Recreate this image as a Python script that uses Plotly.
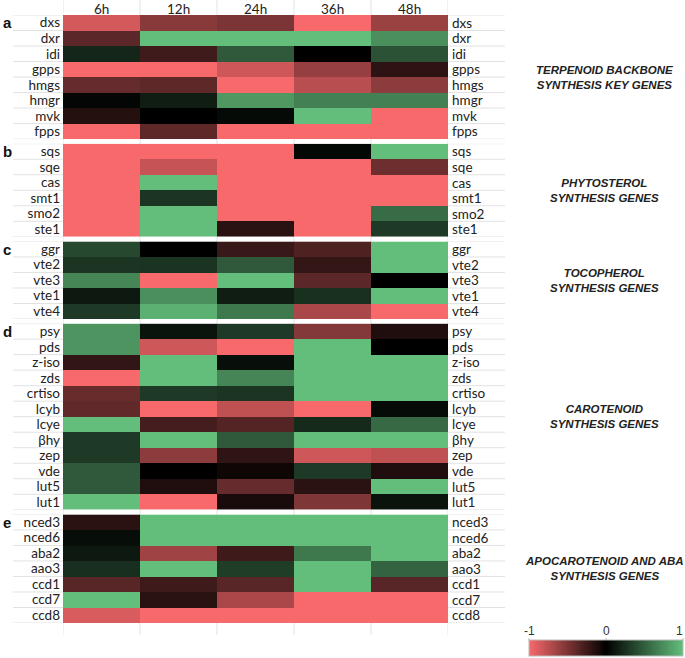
import plotly.graph_objects as go

cols = ["6h", "12h", "24h", "36h", "48h"]

genes_a = ["dxs", "dxr", "idi", "gpps", "hmgs", "hmgr", "mvk", "fpps"]
vals_a = [
    [-0.85, -0.55, -0.50, -1.00, -0.62],
    [-0.37, 1.00, 1.00, 1.00, 0.75],
    [0.20, -0.26, 0.47, 0.00, 0.43],
    [-1.00, -1.00, -0.83, -0.60, -0.18],
    [-0.41, -0.38, -1.00, -0.74, -0.57],
    [0.03, 0.15, 0.80, 0.68, 0.68],
    [-0.15, 0.00, 0.05, 1.00, -1.00],
    [-1.00, -0.38, -1.00, -1.00, -1.00],
]

genes_b = ["sqs", "sqe", "cas", "smt1", "smo2", "ste1"]
vals_b = [
    [-1.00, -1.00, -1.00, 0.04, 1.00],
    [-1.00, -0.80, -1.00, -1.00, -0.44],
    [-1.00, 1.00, -1.00, -1.00, -1.00],
    [-1.00, 0.28, -1.00, -1.00, -1.00],
    [-1.00, 1.00, -1.00, -1.00, 0.57],
    [-1.00, 1.00, -0.17, -1.00, 0.30],
]

genes_c = ["ggr", "vte2", "vte3", "vte1", "vte4"]
vals_c = [
    [0.38, 0.00, -0.23, -0.32, 1.00],
    [0.28, 0.27, 0.47, -0.21, 1.00],
    [0.70, -1.00, 1.00, -0.37, 0.00],
    [0.13, 0.75, 0.15, 0.25, 1.00],
    [0.30, 0.93, 0.63, -0.68, -1.00],
]

genes_d = ["psy", "pds", "z-iso", "zds", "crtiso", "lcyb", "lcye", "βhy",
           "zep", "vde", "lut5", "lut1"]
vals_d = [
    [0.78, 0.10, 0.30, -0.53, -0.13],
    [0.78, -0.83, -1.00, 1.00, 0.00],
    [-0.20, 1.00, 0.08, 1.00, 1.00],
    [-1.00, 1.00, 0.70, 1.00, 1.00],
    [-0.42, 0.30, 0.28, 1.00, 1.00],
    [-0.39, -1.00, -0.77, -1.00, 0.06],
    [1.00, -0.28, -0.34, 0.22, 0.55],
    [0.30, 1.00, 0.47, 1.00, 1.00],
    [0.30, -0.57, -0.19, -0.83, -0.77],
    [0.47, 0.00, -0.06, 0.30, -0.13],
    [0.47, -0.13, -0.41, -0.17, 1.00],
    [1.00, -1.00, -0.10, -0.51, 0.10],
]

genes_e = ["nced3", "nced6", "aba2", "aao3", "ccd1", "ccd7", "ccd8"]
vals_e = [
    [-0.17, 1.00, 1.00, 1.00, 1.00],
    [0.07, 1.00, 1.00, 1.00, 1.00],
    [0.13, -0.64, -0.25, 0.63, 1.00],
    [0.24, 1.00, 0.32, 1.00, 0.52],
    [-0.36, -0.25, -0.36, 1.00, -0.36],
    [1.00, -0.17, -0.68, -1.00, -1.00],
    [-0.87, -1.00, -1.00, -1.00, -1.00],
]

panel_letters = ["a", "b", "c", "d", "e"]
panel_titles = [
    "TERPENOID BACKBONE<br>SYNTHESIS KEY GENES",
    "PHYTOSTEROL<br>SYNTHESIS GENES",
    "TOCOPHEROL<br>SYNTHESIS GENES",
    "CAROTENOID<br>SYNTHESIS GENES",
    "APOCAROTENOID AND ABA<br>SYNTHESIS GENES",
]
cbar_ticks = [-1, 0, 1]

panels = [(genes_a, vals_a), (genes_b, vals_b), (genes_c, vals_c),
          (genes_d, vals_d), (genes_e, vals_e)]

# ---- geometry (pixels, whole figure is the paper) ----
W, H = 685, 658
X0, X1 = 63, 448          # heatmap left / right edge
Y0, Y1 = 15, 623          # heatmap top / bottom edge
GAP = 4.6
PH = Y1 - Y0
n_total = sum(len(g) for g, _ in panels)
row_h = (PH - GAP * (len(panels) - 1)) / n_total


def px(xp):
    return xp / W


def py(yp):
    return 1 - yp / H


lab_font = dict(family="Lato, Carlito, sans-serif", size=13.5, color="#222222")
grid_col = "#E2E2E2"

fig = go.Figure()
layout = {}
annotations = []
shapes = []

top = Y0
for k, (genes, vals) in enumerate(panels):
    n = len(genes)
    y_top_px = top
    y_bot_px = top + n * row_h
    top = y_bot_px + GAP
    xa = "x" if k == 0 else f"x{k+1}"
    ya = "y" if k == 0 else f"y{k+1}"
    xkey = "xaxis" if k == 0 else f"xaxis{k+1}"
    ykey = "yaxis" if k == 0 else f"yaxis{k+1}"
    fig.add_trace(go.Heatmap(
        x=cols, y=genes, z=vals, coloraxis="coloraxis",
        xaxis=xa, yaxis=ya,
    ))
    layout[xkey] = dict(
        domain=[px(X0), px(X1)], anchor=ya, showgrid=False, zeroline=False,
        showticklabels=False, ticks="", showline=False,
        categoryorder="array", categoryarray=cols,
        range=[-0.5, len(cols) - 0.5], automargin=False,
    )
    layout[ykey] = dict(
        domain=[py(y_bot_px), py(y_top_px)], anchor=xa,
        range=[n - 0.5, -0.5],
        showgrid=False, zeroline=False, ticks="", showline=False,
        tickfont=lab_font, categoryorder="array", categoryarray=genes,
        tickmode="array", tickvals=genes, ticktext=genes,
        ticklabelstandoff=2, automargin=False,
    )
    # right-side gene labels
    for g in genes:
        annotations.append(dict(
            x=px(X1 + 2), xref="paper", xanchor="left",
            y=g, yref=ya, yanchor="middle", text=g, showarrow=False,
            font=lab_font,
        ))
    # panel letter
    annotations.append(dict(
        x=px(1), xref="paper", xanchor="left",
        y=genes[0], yref=ya, yanchor="middle", text=f"<b>{panel_letters[k]}</b>",
        showarrow=False,
        font=dict(family="Liberation Sans, Arial", size=15, color="#111111"),
    ))
    # panel title
    annotations.append(dict(
        x=px(604), xref="paper", xanchor="center",
        y=py((y_top_px + y_bot_px) / 2), yref="paper", yanchor="middle",
        text=f"<b><i>{panel_titles[k]}</i></b>", showarrow=False,
        font=dict(family="Liberation Sans, Arial", size=11.5, color="#222222"),
    ))
    # spreadsheet-like gridlines in label columns
    for i in range(n + 1):
        yy = i - 0.5
        shapes.append(dict(type="line", xref="paper", yref=ya,
                           x0=px(13), x1=px(X0), y0=yy, y1=yy,
                           line=dict(color=grid_col, width=1)))
        shapes.append(dict(type="line", xref="paper", yref=ya,
                           x0=px(X1), x1=px(505), y0=yy, y1=yy,
                           line=dict(color=grid_col, width=1)))

# column headers (time points) above the first panel
for c in cols:
    annotations.append(dict(
        x=c, xref="x", xanchor="center", y=py(0), yref="paper", yanchor="top",
        text=c, showarrow=False, borderpad=0,
        font=dict(lab_font, size=13.5),
    ))

# vertical column separators (header, gaps, footer)
for j in range(len(cols) + 1):
    shapes.append(dict(type="line", xref="x", yref="paper",
                       x0=j - 0.5, x1=j - 0.5, y0=py(Y1 + 12), y1=py(0),
                       line=dict(color=grid_col, width=1), layer="below"))

# colorbar geometry
cb_x0, cb_x1 = 529, 683
cb_len = cb_x1 - cb_x0
cb_y_bottom = 657
for t in cbar_ticks:
    xpix = cb_x0 + (t - cbar_ticks[0]) / (cbar_ticks[-1] - cbar_ticks[0]) * cb_len
    annotations.append(dict(
        x=px(min(xpix, W - 6)), xref="paper", xanchor="center",
        y=py(631), yref="paper", yanchor="middle",
        text=str(t), showarrow=False, borderpad=0,
        font=dict(family="Liberation Sans, Arial", size=12, color="#333333"),
    ))
    # tiny tick mark on top edge of the colour bar
    shapes.append(dict(type="line", xref="paper", yref="paper",
                       x0=px(xpix), x1=px(xpix), y0=py(641), y1=py(638),
                       line=dict(color="#BBBBBB", width=1)))

fig.update_layout(
    width=W, height=H,
    margin=dict(l=0, r=0, t=0, b=0, pad=0),
    paper_bgcolor="white", plot_bgcolor="white",
    showlegend=False,
    coloraxis=dict(
        cmin=-1, cmax=1,
        colorscale=[[0, "#F8696B"], [0.5, "#000000"], [1, "#63BE7B"]],
        colorbar=dict(
            orientation="h", x=px(cb_x0), xanchor="left",
            y=py(cb_y_bottom), yanchor="bottom",
            len=cb_len, lenmode="pixels", thickness=16, thicknessmode="pixels",
            xpad=0, ypad=0, showticklabels=False, ticks="",
            outlinewidth=1, outlinecolor="#BBBBBB",
        ),
    ),
    annotations=annotations,
    shapes=shapes,
    **layout,
)

fig.write_html(
    "out.html",
    config={"displayModeBar": False},
    post_script="document.body.style.margin='0px';document.body.style.overflow='hidden';",
)
